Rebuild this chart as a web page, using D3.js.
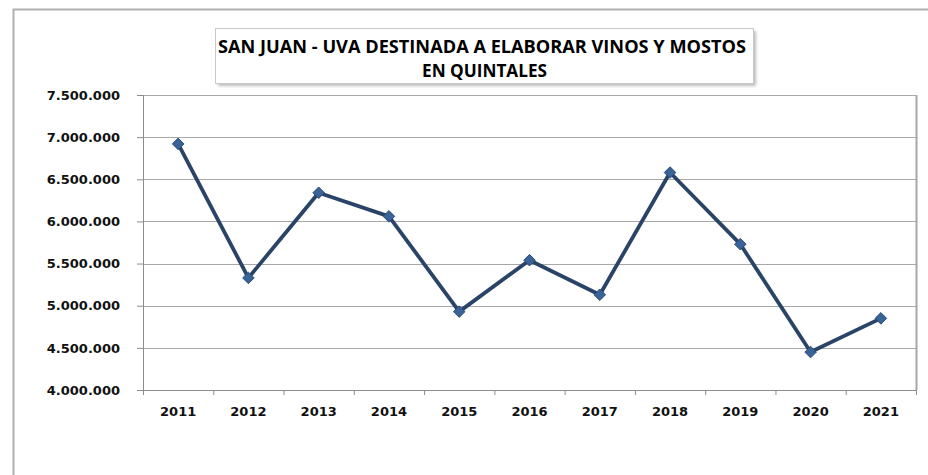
<!DOCTYPE html>
<html>
<head>
<meta charset="utf-8">
<script src="https://cdn.jsdelivr.net/npm/d3@7"></script>
<style>
  body { margin: 0; background: #fff; }
  svg { display: block; font-family: "DejaVu Sans", sans-serif; }
</style>
</head>
<body>
<div id="chart"></div>
<script>
// data (quintales)
const years = ["2011", "2012", "2013", "2014", "2015", "2016", "2017", "2018", "2019", "2020", "2021"];
const values = [6920000, 5330000, 6340000, 6060000, 4930000, 5540000, 5130000, 6580000, 5730000, 4450000, 4850000];
const yTicks = [4000000, 4500000, 5000000, 5500000, 6000000, 6500000, 7000000, 7500000];
const titleLines = ["SAN JUAN - UVA DESTINADA A ELABORAR VINOS Y MOSTOS", "EN QUINTALES"];

const W = 928, H = 475;
const margin = {top: 95, right: 12, bottom: 85, left: 143};
const width = W - margin.left - margin.right;
const height = H - margin.top - margin.bottom;

const svg = d3.select("#chart")
    .append("svg")
    .attr("width", W)
    .attr("height", H);

// outer chart frame (runs off the right / bottom edge)
svg.append("rect")
    .attr("x", 13.5).attr("y", 9.5)
    .attr("width", W + 20).attr("height", H + 20)
    .attr("fill", "#fff")
    .attr("stroke", "#b0b0b0")
    .attr("stroke-width", 2);

const g = svg.append("g")
    .attr("transform", `translate(${margin.left},${margin.top})`);

const x = d3.scaleBand()
    .domain(years)
    .range([0, width]);

const y = d3.scaleLinear()
    .domain([4000000, 7500000])
    .range([height, 0]);

const fmt = d => d3.format(",")(d).replace(/,/g, ".");

// gridlines
g.append("g")
    .selectAll("line")
    .data(yTicks)
    .enter().append("line")
    .attr("x1", 0).attr("x2", width)
    .attr("y1", d => Math.round(y(d)) + 0.5)
    .attr("y2", d => Math.round(y(d)) + 0.5)
    .attr("stroke", "#a8a8a8")
    .attr("stroke-width", 1);

// plot area right border
g.append("line")
    .attr("x1", width + 0.5).attr("x2", width + 0.5)
    .attr("y1", 0).attr("y2", height)
    .attr("stroke", "#a8a8a8")
    .attr("stroke-width", 2);

// y axis
const yAxis = g.append("g")
    .call(d3.axisLeft(y).tickValues(yTicks).tickFormat(fmt).tickSize(6).tickPadding(17));
yAxis.select(".domain").attr("stroke", "#8c8c8c");
yAxis.selectAll(".tick line").attr("stroke", "#8c8c8c");
yAxis.selectAll("text")
    .attr("fill", "#111")
    .style("font-size", "13px")
    .style("font-weight", "bold")
    .style("font-family", "'DejaVu Sans', sans-serif");

// x axis (ticks at band edges)
const xAxis = g.append("g")
    .attr("transform", `translate(0,${height})`)
    .call(d3.axisBottom(x).tickSize(0).tickPadding(17));
xAxis.select(".domain").attr("stroke", "#8c8c8c");
xAxis.selectAll("text")
    .attr("fill", "#111")
    .style("font-size", "13px")
    .style("font-weight", "bold")
    .style("font-family", "'DejaVu Sans', sans-serif");
g.append("g")
    .selectAll("line")
    .data(years.concat(["end"]))
    .enter().append("line")
    .attr("x1", (d, i) => i < years.length ? x(d) + 0.5 : width + 0.5)
    .attr("x2", (d, i) => i < years.length ? x(d) + 0.5 : width + 0.5)
    .attr("y1", height).attr("y2", height + 5)
    .attr("stroke", "#8c8c8c");

// series line
const line = d3.line()
    .x((d, i) => x(years[i]) + x.bandwidth() / 2)
    .y(d => y(d));

g.append("path")
    .datum(values)
    .attr("fill", "none")
    .attr("stroke", "#2a4468")
    .attr("stroke-width", 3.8)
    .attr("stroke-linejoin", "round")
    .attr("d", line);

g.selectAll(".marker")
    .data(values)
    .enter().append("path")
    .attr("class", "marker")
    .attr("transform", (d, i) => `translate(${x(years[i]) + x.bandwidth() / 2},${y(d)})`)
    .attr("d", d3.symbol().type(d3.symbolDiamond2).size(85))
    .attr("fill", "#3a6497")
    .attr("stroke", "#2a4a75")
    .attr("stroke-width", 1);

// title box with shadow
const tb = {x: 215, y: 28, w: 538, h: 55};
svg.append("rect")
    .attr("x", tb.x + 3).attr("y", tb.y + 3)
    .attr("width", tb.w).attr("height", tb.h)
    .attr("fill", "#bdbdbd")
    .style("filter", "blur(1.5px)");
svg.append("rect")
    .attr("x", tb.x + 0.5).attr("y", tb.y + 0.5)
    .attr("width", tb.w).attr("height", tb.h)
    .attr("fill", "#fff")
    .attr("stroke", "#c8c8c8");

svg.append("text")
    .attr("x", 218).attr("y", 53)
    .attr("textLength", 528)
    .attr("lengthAdjust", "spacingAndGlyphs")
    .style("font-size", "18px")
    .style("font-weight", "bold")
    .style("font-family", "'Open Sans', sans-serif")
    .attr("fill", "#000")
    .text(titleLines[0]);

svg.append("text")
    .attr("x", 422).attr("y", 77)
    .attr("textLength", 125)
    .attr("lengthAdjust", "spacingAndGlyphs")
    .style("font-size", "18px")
    .style("font-weight", "bold")
    .style("font-family", "'Open Sans', sans-serif")
    .attr("fill", "#000")
    .text(titleLines[1]);
</script>
</body>
</html>
